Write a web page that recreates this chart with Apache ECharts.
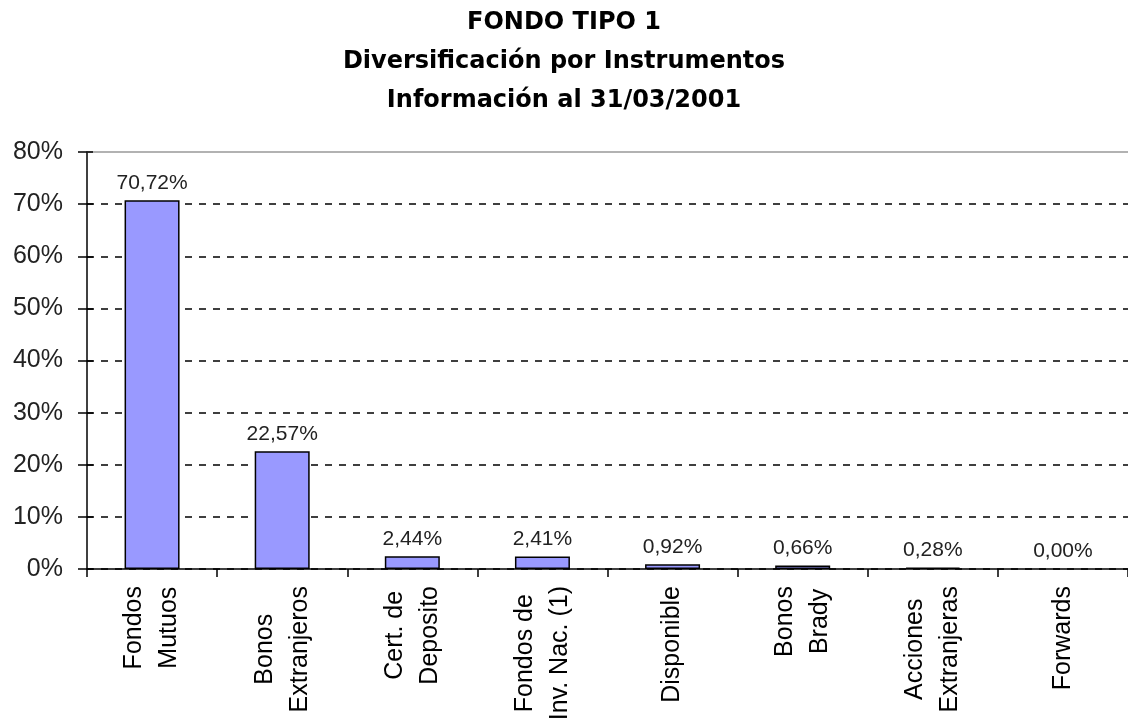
<!DOCTYPE html>
<html>
<head>
    <meta charset="utf-8">
    <title>Fondo Tipo 1</title>
    <script src="https://cdn.jsdelivr.net/npm/echarts@6/dist/echarts.min.js"></script>
    <style>
        html, body { margin: 0; padding: 0; background: #fff; }
    </style>
</head>
<body>
    <div id="main" style="width: 1128px;height:725px;"></div>
    <script type="text/javascript">
        var categories = ['Fondos\nMutuos', 'Bonos\nExtranjeros', 'Cert. de\nDeposito', 'Fondos de\nInv. Nac. (1)',
            'Disponible', 'Bonos\nBrady', 'Acciones\nExtranjeras', 'Forwards'];
        var values = [70.72, 22.57, 2.44, 2.41, 0.92, 0.66, 0.28, 0.00];
        var yTicks = [0, 10, 20, 30, 40, 50, 60, 70, 80];

        var chartDom = document.getElementById('main');
        var myChart = echarts.init(chartDom, null, {renderer: 'canvas'});

        // grid lines: dashed black, the top one is replaced by the grey frame line
        var gridColors = yTicks.map(function (v, i) {
            return i === yTicks.length - 1 ? 'rgba(0,0,0,0)' : '#000';
        });

        // a zero bar has no visible outline in the original
        var barData = values.map(function (v) {
            return v === 0 ? {value: v, itemStyle: {borderWidth: 0}} : v;
        });

        var option = {
            animation: false,
            backgroundColor: '#fff',
            title: {
                text: 'FONDO TIPO 1\nDiversificación por Instrumentos\nInformación al 31/03/2001',
                left: 'center',
                top: -2,
                textStyle: {
                    fontFamily: 'DejaVu Sans',
                    fontWeight: 'bold',
                    fontSize: 24,
                    lineHeight: 39,
                    color: '#000'
                }
            },
            grid: {left: 87, right: -4, top: 152, bottom: 156},
            xAxis: [{
                type: 'category',
                data: categories,
                axisLine: {lineStyle: {color: '#000', width: 1.5}},
                axisTick: {show: true, length: 8, lineStyle: {color: '#000', width: 1.5}},
                axisLabel: {
                    rotate: 90,
                    margin: 17,
                    interval: 0,
                    color: '#000',
                    formatter: function (v) {
                        return v.split('\n').map(function (s) { return '{c|' + s + '}'; }).join('\n');
                    },
                    rich: {
                        c: {
                            align: 'center',
                            fontFamily: 'Liberation Sans',
                            fontSize: 25,
                            lineHeight: 35,
                            color: '#000'
                        }
                    }
                }
            }, {
                type: 'category',
                position: 'top',
                data: categories,
                axisLine: {onZero: false, lineStyle: {color: '#999', width: 1.5}},
                axisTick: {show: false},
                axisLabel: {show: false}
            }],
            yAxis: [{
                type: 'value',
                min: 0,
                max: 80,
                interval: 10,
                axisLine: {show: true, lineStyle: {color: '#000', width: 1.5}},
                axisTick: {show: true, length: 9, lineStyle: {color: '#000', width: 1.5}},
                axisLabel: {
                    formatter: '{value}%',
                    margin: 24,
                    fontFamily: 'Liberation Sans',
                    fontSize: 25,
                    color: '#222'
                },
                splitLine: {
                    show: true,
                    lineStyle: {color: gridColors, type: [7, 7], width: 1.5}
                }
            }, {
                type: 'value',
                position: 'left',
                min: 0,
                max: 80,
                interval: 10,
                axisLine: {show: false},
                axisTick: {show: true, inside: true, length: 6, lineStyle: {color: '#000', width: 1.5}},
                axisLabel: {show: false},
                splitLine: {show: false}
            }],
            series: [{
                type: 'bar',
                data: barData,
                barWidth: 55,
                itemStyle: {color: '#9999ff', borderColor: '#000', borderWidth: 1.5},
                label: {
                    show: true,
                    position: 'top',
                    distance: 7,
                    fontFamily: 'Liberation Sans',
                    fontSize: 21,
                    color: '#222',
                    formatter: function (p) {
                        return p.value.toFixed(2).replace('.', ',') + '%';
                    }
                }
            }]
        };
        myChart.setOption(option);
    </script>
</body>
</html>
